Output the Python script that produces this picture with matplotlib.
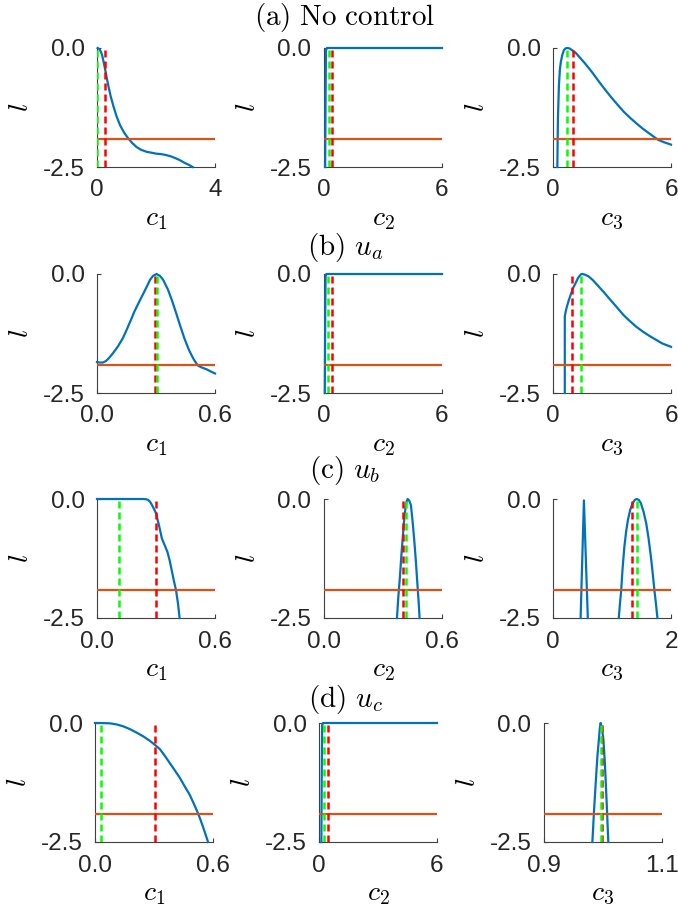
import matplotlib
matplotlib.use("Agg")
import matplotlib.pyplot as plt

plt.rcParams['font.family'] = ['Liberation Sans', 'DejaVu Sans']
plt.rcParams['mathtext.fontset'] = 'cm'

# profile likelihood threshold
threshold = -1.92

# (a) no control
a_c1 = [0.02, 0.05, 0.09, 0.13, 0.17, 0.22, 0.28, 0.33, 0.39, 0.47, 0.56, 0.66, 0.78, 0.92, 1.06, 1.2,
        1.34, 1.5, 1.68, 1.85, 2.01, 2.18, 2.35, 2.52, 2.68, 2.82, 2.96, 3.1, 3.24]
a_l1 = [0.0, -0.01, -0.03, -0.08, -0.14, -0.28, -0.46, -0.63, -0.81, -1.03, -1.23, -1.43, -1.62, -1.78,
        -1.90, -2.00, -2.08, -2.14, -2.18, -2.20, -2.22, -2.23, -2.25, -2.28, -2.32, -2.36, -2.41, -2.45, -2.50]
a_c2 = [0.06, 0.08, 0.10, 0.15, 6.0]
a_l2 = [-2.5, -1.0, -0.05, 0.0, 0.0]
a_c3 = [0.22, 0.25, 0.30, 0.35, 0.40, 0.47, 0.55, 0.63, 0.72, 0.85, 0.98, 1.15, 1.30, 1.64, 1.97, 2.29,
        2.62, 2.95, 3.28, 3.60, 3.93, 4.26, 4.58, 4.91, 5.35, 5.65, 6.0]
a_l3 = [-2.5, -1.5, -0.8, -0.45, -0.29, -0.15, -0.05, -0.01, 0.0, -0.01, -0.05, -0.10, -0.17, -0.33,
        -0.50, -0.68, -0.86, -1.03, -1.19, -1.34, -1.47, -1.59, -1.70, -1.80, -1.93, -1.98, -2.03]
a_green = [0.01, 0.25, 0.70]
a_red = [0.28, 0.42, 1.0]

# (b) u_a
b_c1 = [0.0, 0.015, 0.029, 0.045, 0.06, 0.08, 0.105, 0.13, 0.15, 0.17, 0.19, 0.215, 0.237, 0.255, 0.27,
        0.285, 0.303, 0.32, 0.336, 0.36, 0.38, 0.40, 0.424, 0.445, 0.468, 0.49, 0.512, 0.53, 0.556, 0.58, 0.6]
b_l1 = [-1.85, -1.86, -1.86, -1.83, -1.77, -1.67, -1.53, -1.36, -1.18, -0.99, -0.79, -0.58, -0.40, -0.25,
        -0.12, -0.04, 0.0, -0.04, -0.12, -0.32, -0.54, -0.79, -1.10, -1.36, -1.60, -1.78, -1.92, -1.96,
        -2.00, -2.05, -2.09]
b_c2 = [0.04, 0.06, 0.08, 0.12, 6.0]
b_l2 = [-2.5, -1.0, -0.05, 0.0, 0.0]
b_c3 = [0.60, 0.60, 0.65, 0.71, 0.82, 0.93, 1.04, 1.15, 1.28, 1.41, 1.48, 1.60, 1.81, 2.03, 2.25, 2.58,
        2.91, 3.25, 3.58, 3.91, 4.24, 4.57, 4.90, 5.23, 5.56, 6.0]
b_l3 = [-2.5, -0.89, -0.78, -0.68, -0.53, -0.40, -0.28, -0.19, -0.08, -0.01, 0.0, -0.01, -0.05, -0.13,
        -0.23, -0.38, -0.54, -0.70, -0.86, -0.99, -1.11, -1.21, -1.30, -1.38, -1.46, -1.53]
b_green = [0.303, 0.22, 1.41]
b_red = [0.297, 0.42, 0.99]

# (c) u_b
c_c1 = [0.0, 0.237, 0.25, 0.26, 0.27, 0.28, 0.29, 0.30, 0.315, 0.33, 0.345, 0.358, 0.37, 0.38, 0.39,
        0.402, 0.412, 0.42]
c_l1 = [0.0, 0.0, -0.005, -0.02, -0.06, -0.13, -0.21, -0.30, -0.55, -0.83, -0.98, -1.11, -1.30, -1.50,
        -1.70, -1.92, -2.20, -2.50]
c_c2 = [0.371, 0.378, 0.386, 0.394, 0.402, 0.408, 0.415, 0.42, 0.426, 0.434, 0.442, 0.45, 0.459, 0.467,
        0.475, 0.481, 0.486]
c_l2 = [-2.5, -2.05, -1.64, -1.15, -0.73, -0.42, -0.16, -0.05, 0.0, -0.04, -0.13, -0.45, -0.87, -1.30,
        -1.79, -2.15, -2.5]
c_c3a = [0.468, 0.524, 0.59]
c_l3a = [-2.5, -0.03, -2.5]
c_c3 = [1.115, 1.135, 1.155, 1.18, 1.21, 1.24, 1.27, 1.31, 1.35, 1.385, 1.42, 1.455, 1.49, 1.535, 1.58,
        1.62, 1.66, 1.69, 1.72, 1.745, 1.77]
c_l3 = [-2.5, -2.2, -1.93, -1.45, -1.0, -0.68, -0.44, -0.22, -0.09, -0.02, 0.0, -0.02, -0.09, -0.27,
        -0.51, -0.83, -1.22, -1.56, -1.93, -2.2, -2.5]
c_green = [0.11, 0.419, 1.425]
c_red = [0.30, 0.404, 1.335]

# (d) u_c
d_c1 = [0.0, 0.04, 0.076, 0.11, 0.144, 0.178, 0.211, 0.245, 0.279, 0.305, 0.33, 0.355, 0.38, 0.405,
        0.431, 0.456, 0.482, 0.503, 0.524, 0.537, 0.549, 0.562, 0.575]
d_l1 = [0.0, -0.002, -0.007, -0.03, -0.07, -0.13, -0.20, -0.28, -0.375, -0.46, -0.55, -0.69, -0.84,
        -0.99, -1.15, -1.33, -1.51, -1.70, -1.90, -2.04, -2.18, -2.34, -2.50]
d_c2 = [0.12, 0.14, 0.16, 0.20, 6.0]
d_l2 = [-2.5, -1.0, -0.05, 0.0, 0.0]
d_c3 = [0.982, 0.985, 0.988, 0.9905, 0.993, 0.9945, 0.996, 0.998, 1.0007, 1.003, 1.005, 1.007, 1.009]
d_l3 = [-2.5, -1.8, -1.19, -0.7, -0.35, -0.12, 0.0, -0.1, -0.35, -0.8, -1.33, -1.9, -2.5]
d_green = [0.029, 0.26, 0.996]
d_red = [0.303, 0.44, 0.998]

row_titles = [r'$\mathrm{(a)\ No\ control}$', r'$\mathrm{(b)}\ u_a$',
              r'$\mathrm{(c)}\ u_b$', r'$\mathrm{(d)}\ u_c$']
xlims = [[(0, 4), (0, 6), (0, 6)],
         [(0, 0.6), (0, 6), (0, 6)],
         [(0, 0.6), (0, 0.6), (0, 2)],
         [(0, 0.6), (0, 6), (0.9, 1.1)]]
xticklabels = [[('0', '4'), ('0', '6'), ('0', '6')],
               [('0.0', '0.6'), ('0', '6'), ('0', '6')],
               [('0.0', '0.6'), ('0.0', '0.6'), ('0', '2')],
               [('0.0', '0.6'), ('0', '6'), ('0.9', '1.1')]]

curves = [
    [[(a_c1, a_l1)], [(a_c2, a_l2)], [(a_c3, a_l3)]],
    [[(b_c1, b_l1)], [(b_c2, b_l2)], [(b_c3, b_l3)]],
    [[(c_c1, c_l1)], [(c_c2, c_l2)], [(c_c3a, c_l3a), (c_c3, c_l3)]],
    [[(d_c1, d_l1)], [(d_c2, d_l2)], [(d_c3, d_l3)]],
]
greens = [a_green, b_green, c_green, d_green]
reds = [a_red, b_red, c_red, d_red]

BLUE = '#0072BD'
ORANGE = '#D95319'
AXC = '#404040'

W, H = 678, 910
fig = plt.figure(figsize=(W / 100, H / 100), dpi=100)

col_left = [[97, 324, 553], [97, 324, 553], [97, 324, 553], [95, 319, 544]]
row_top = [48, 274, 499, 723]
title_y = [18, 248, 470, 699]
aw, ah = 118, 119

for r in range(4):
    fig.text(345 / W, 1 - title_y[r] / H, row_titles[r], ha='center', va='center', fontsize=21)
    for c in range(3):
        ax = fig.add_axes([col_left[r][c] / W, 1 - (row_top[r] + ah) / H, aw / W, ah / H])
        for xs, ys in curves[r][c]:
            ax.plot(xs, ys, color=BLUE, lw=1.6, clip_on=False, zorder=3)
        ax.axhline(threshold, color=ORANGE, lw=1.6, zorder=4)
        ax.axvline(reds[r][c], color='#FF0000', lw=1.8, dashes=(2.8, 1.6), zorder=5)
        ax.axvline(greens[r][c], color='#00FF00', lw=1.8, dashes=(2.8, 1.6), zorder=6)
        ax.set_xlim(*xlims[r][c])
        ax.set_ylim(-2.5, 0)
        ax.set_xticks(list(xlims[r][c]))
        ax.set_xticklabels(xticklabels[r][c])
        ax.set_yticks([-2.5, 0])
        ax.set_yticklabels(['-2.5', '0.0'])
        ax.tick_params(direction='in', length=3, width=0.8, color=AXC,
                       labelsize=17.5, labelcolor='#262626', pad=9)
        for s in ['top', 'right']:
            ax.spines[s].set_visible(False)
        for s in ['left', 'bottom']:
            ax.spines[s].set_color(AXC)
            ax.spines[s].set_linewidth(0.8)
        ax.set_xlabel(r'$c_{%d}$' % (c + 1), fontsize=20, labelpad=3)
        ax.set_ylabel(r'$l$', fontsize=20, labelpad=6)

fig.savefig('out.png', dpi=100)
